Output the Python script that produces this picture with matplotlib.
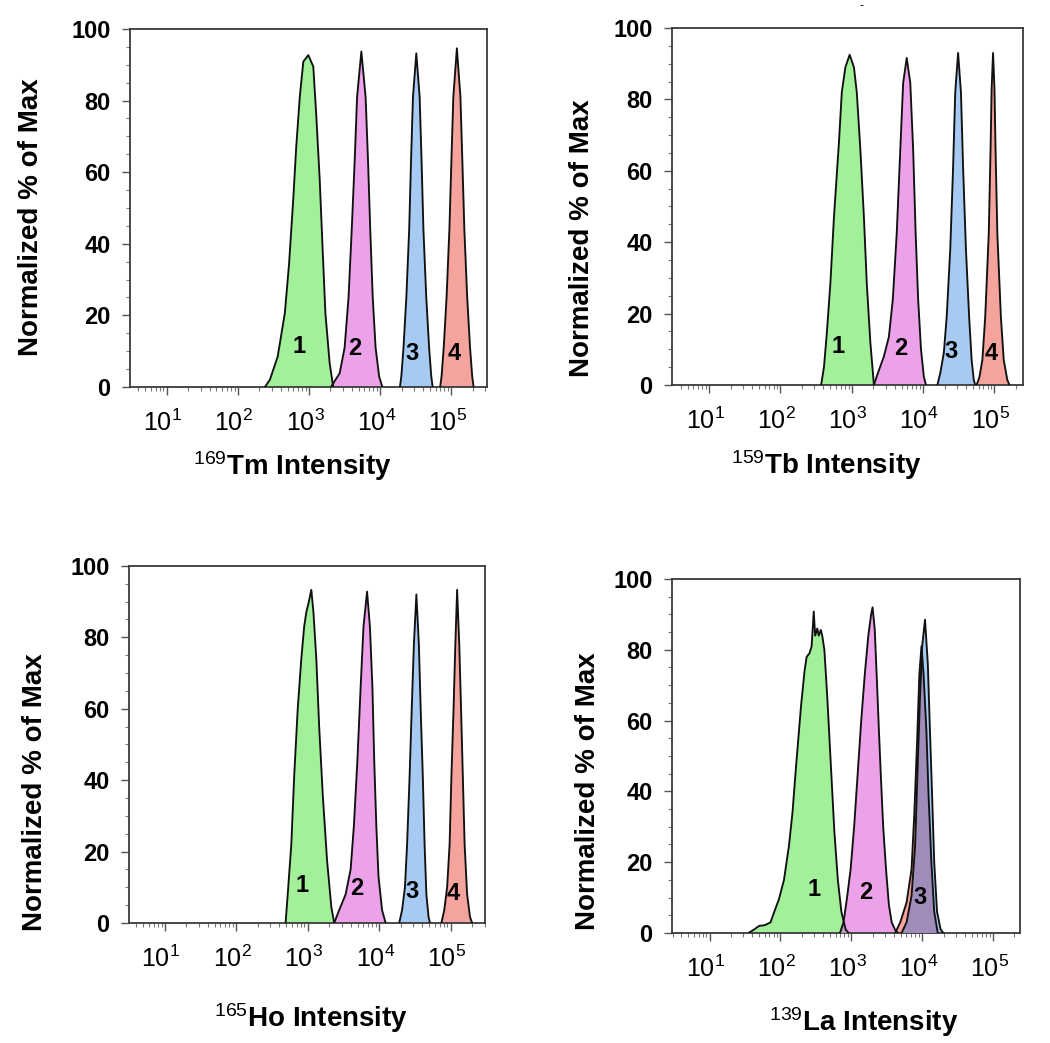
import numpy as np
import matplotlib.pyplot as plt
import matplotlib.transforms as mtransforms
from matplotlib.ticker import MultipleLocator, FixedLocator, LogLocator, NullFormatter
import matplotlib.colors as mcolors

plt.rcParams['font.family'] = ['Liberation Sans', 'DejaVu Sans']
plt.rcParams['mathtext.fontset'] = 'custom'
plt.rcParams['mathtext.rm'] = 'Liberation Sans'
plt.rcParams['mathtext.it'] = 'Liberation Sans:italic'
plt.rcParams['mathtext.bf'] = 'Liberation Sans:bold'

# peak colours (channel 1..4)
green = '#a2f09a'
magenta = '#eca2e8'
blue = '#a6caf2'
red = '#f5a39d'
# colours where two histograms overlap
overlap = {(green, magenta): '#b4a0b9', (red, blue): '#a08cb9'}

x_major = [1, 2, 3, 4, 5]   # decades with labels

# --- 169Tm panel: x in log10(intensity), y in % of max
tm_g_x = [2.38, 2.45, 2.56, 2.66, 2.72, 2.78, 2.82, 2.87, 2.92, 2.99, 3.06, 3.10, 3.15, 3.19, 3.23, 3.29, 3.34]
tm_g_y = [0, 2, 8.5, 20.6, 34.5, 53, 67, 81, 90.9, 92.7, 89.5, 76.5, 58, 39, 20.6, 6.6, 0]
tm_m_x = [3.31, 3.34, 3.43, 3.50, 3.555, 3.60, 3.64, 3.675, 3.735, 3.795, 3.83, 3.86, 3.895, 3.935, 3.985, 4.03]
tm_m_y = [0, 1, 3.8, 11, 25, 44, 62.5, 81, 93.7, 81, 62.5, 44, 25, 11, 2.9, 0]
tm_b_x = [4.277, 4.297, 4.327, 4.367, 4.407, 4.432, 4.46, 4.507, 4.554, 4.582, 4.607, 4.647, 4.687, 4.717, 4.737]
tm_b_y = [0, 3, 11, 25, 44, 62.5, 81, 93.2, 81, 62.5, 44, 25, 11, 3, 0]
tm_r_x = [4.842, 4.862, 4.892, 4.932, 4.972, 4.999, 5.027, 5.077, 5.127, 5.155, 5.182, 5.222, 5.262, 5.292, 5.312]
tm_r_y = [0, 3, 11, 25, 44, 62.5, 81, 94.6, 81, 62.5, 44, 25, 11, 3, 0]
tm_num_x = [2.86, 3.64, 4.45, 5.04]
tm_num_y = [11.2, 10.7, 9.3, 9.3]

# --- 159Tb panel
tb_g_x = [2.57, 2.61, 2.65, 2.70, 2.75, 2.82, 2.86, 2.91, 2.97, 3.03, 3.07, 3.12, 3.17, 3.21, 3.26, 3.31]
tb_g_y = [0, 5, 14.5, 28.5, 47, 68, 82, 89, 92.5, 89, 82, 66, 47, 28.5, 12, 0]
tb_m_x = [3.31, 3.36, 3.45, 3.52, 3.575, 3.63, 3.68, 3.72, 3.77, 3.82, 3.86, 3.895, 3.93, 3.97, 4.01, 4.04]
tb_m_y = [0, 3, 8, 13.5, 24, 42.5, 66, 84.6, 91.6, 84.6, 66, 42.5, 24, 10, 2.3, 0]
tb_b_x = [4.20, 4.24, 4.29, 4.33, 4.38, 4.42, 4.45, 4.49, 4.53, 4.56, 4.60, 4.645, 4.68, 4.71, 4.73]
tb_b_y = [0, 3.3, 9, 19, 38, 61, 82, 93, 82, 61, 38, 19, 7, 1.4, 0]
tb_r_x = [4.75, 4.79, 4.83, 4.87, 4.92, 4.945, 4.96, 4.98, 5.00, 5.015, 5.04, 5.09, 5.13, 5.18, 5.21]
tb_r_y = [0, 2.3, 7, 19, 42.5, 66, 83, 93, 83, 66, 42.5, 19, 7, 1.4, 0]
tb_num_x = [2.81, 3.68, 4.39, 4.96]
tb_num_y = [10.7, 10.3, 9.3, 8.9]

# --- 165Ho panel
ho_g_x = [2.69, 2.72, 2.77, 2.81, 2.86, 2.91, 2.95, 2.98, 3.01, 3.05, 3.08, 3.12, 3.16, 3.21, 3.27, 3.33, 3.37]
ho_g_y = [0, 8, 22, 41, 60, 74, 83, 87, 89.5, 93.3, 87, 74, 55, 36, 17.6, 4.5, 0]
ho_m_x = [3.37, 3.44, 3.53, 3.60, 3.645, 3.695, 3.74, 3.78, 3.83, 3.87, 3.905, 3.93, 3.96, 3.99, 4.04, 4.09]
ho_m_y = [0, 3.6, 8, 15, 27, 45.6, 66, 83, 92.8, 83, 66, 45.6, 27, 13, 3.6, 0]
ho_b_x = [4.28, 4.32, 4.36, 4.39, 4.425, 4.455, 4.485, 4.52, 4.555, 4.58, 4.61, 4.635, 4.66, 4.69, 4.71]
ho_b_y = [0, 3.6, 10, 22, 41, 60, 78, 92, 78, 60, 41, 22, 8, 1.7, 0]
ho_r_x = [4.87, 4.91, 4.95, 4.985, 5.01, 5.04, 5.065, 5.09, 5.12, 5.145, 5.17, 5.195, 5.23, 5.27, 5.30]
ho_r_y = [0, 3.6, 10, 22, 41, 60, 78, 93.3, 78, 60, 41, 22, 8, 1.7, 0]
ho_num_x = [2.92, 3.69, 4.46, 5.04]
ho_num_y = [10.6, 9.6, 8.7, 8.2]

# --- 139La panel (channels 3 and 4 overlap)
la_g_x = [1.55, 1.63, 1.70, 1.78, 1.86, 1.91, 1.98, 2.05, 2.12, 2.17, 2.22, 2.29, 2.34, 2.37, 2.41, 2.44, 2.47,
          2.49, 2.52, 2.54, 2.57, 2.59, 2.62, 2.66, 2.71, 2.76, 2.81, 2.86, 2.92, 2.96]
la_g_y = [0, 1, 2, 2.2, 3, 5.8, 9.6, 15, 24.6, 34, 47, 64, 74, 78, 79, 81, 90.8,
          84, 86, 84, 85.6, 84, 80, 67, 48, 29, 15, 6, 1, 0]
la_m_x = [2.84, 2.89, 2.94, 2.99, 3.04, 3.09, 3.14, 3.19, 3.24, 3.28, 3.30, 3.33, 3.36, 3.39, 3.42, 3.45, 3.49, 3.53, 3.57, 3.62, 3.66]
la_m_y = [0, 3, 10, 18, 30, 45, 60, 73, 84, 90, 92, 86, 72, 57, 43, 30, 18, 8, 3, 0.8, 0]
la_r_x = [3.62, 3.69, 3.78, 3.85, 3.89, 3.93, 3.96, 3.99, 4.02, 4.06, 4.09, 4.13, 4.17, 4.22]
la_r_y = [0, 3, 8.6, 18, 34, 55, 73, 81, 73, 57, 39, 20, 6, 0]
la_b_x = [3.71, 3.78, 3.85, 3.90, 3.93, 3.97, 4.00, 4.04, 4.08, 4.11, 4.14, 4.17, 4.21, 4.26, 4.30]
la_b_y = [0, 3, 10.5, 24.6, 43, 67, 81, 88.5, 76, 57, 39, 20, 6, 1, 0]
la_num_x = [2.47, 3.20, 3.97]
la_num_y = [12.4, 11.5, 10]

panels = [
    dict(iso='169', el='Tm', rect=[0.1238, 0.629, 0.340, 0.3432], xlim=(0.485, 5.50),
         peaks=[(tm_g_x, tm_g_y, green), (tm_m_x, tm_m_y, magenta), (tm_b_x, tm_b_y, blue), (tm_r_x, tm_r_y, red)],
         nums=(tm_num_x, tm_num_y, ['1', '2', '3', '4']), xlab=(0.455, -0.175), ylab=(-0.24, 0.475)),
    dict(iso='159', el='Tb', rect=[0.640, 0.6309, 0.3343, 0.3423], xlim=(0.48, 5.40),
         peaks=[(tb_g_x, tb_g_y, green), (tb_m_x, tb_m_y, magenta), (tb_b_x, tb_b_y, blue), (tb_r_x, tb_r_y, red)],
         nums=(tb_num_x, tb_num_y, ['1', '2', '3', '4']), xlab=(0.44, -0.177), ylab=(-0.218, 0.41)),
    dict(iso='165', el='Ho', rect=[0.1229, 0.1151, 0.339, 0.3423], xlim=(0.50, 5.48),
         peaks=[(ho_g_x, ho_g_y, green), (ho_m_x, ho_m_y, magenta), (ho_b_x, ho_b_y, blue), (ho_r_x, ho_r_y, red)],
         nums=(ho_num_x, ho_num_y, ['1', '2', '3', '4']), xlab=(0.51, -0.22), ylab=(-0.228, 0.366)),
    dict(iso='139', el='La', rect=[0.640, 0.1055, 0.3314, 0.3394], xlim=(0.47, 5.38),
         peaks=[(la_g_x, la_g_y, green), (la_m_x, la_m_y, magenta), (la_r_x, la_r_y, red), (la_b_x, la_b_y, blue)],
         nums=(la_num_x, la_num_y, ['1', '2', '3']), xlab=(0.55, -0.205), ylab=(-0.203, 0.40)),
]


def mix(c1, c2):
    if (c1, c2) in overlap:
        return overlap[(c1, c2)]
    return tuple(np.array(mcolors.to_rgb(c1)) * np.array(mcolors.to_rgb(c2)))


fig = plt.figure(figsize=(10.5, 10.43), dpi=100)
# tick labels sit a little to the left of their tick
shift = mtransforms.ScaledTranslation(-4 / 100, 0, fig.dpi_scale_trans)

for p in panels:
    ax = fig.add_axes(p['rect'])
    ax.set_xscale('log')
    polys = []
    for lx, y, c in p['peaks']:
        poly = ax.fill(10 ** np.array(lx), y, facecolor=c, edgecolor='none', zorder=2)[0]
        polys.append((poly, lx, y, c))
    # overlapping areas are drawn darker
    for i in range(len(polys)):
        for j in range(i + 1, len(polys)):
            pi, pj = polys[i], polys[j]
            ov = ax.fill(10 ** np.array(pj[1]), pj[2], facecolor=mix(pi[3], pj[3]),
                         edgecolor='none', zorder=3)[0]
            ov.set_clip_path(pi[0])
    for lx, y, c in p['peaks']:
        ax.plot(10 ** np.array(lx), y, color='#111111', lw=1.35, zorder=4, solid_joinstyle='round')

    nx, ny, nt = p['nums']
    for x, y, t in zip(nx, ny, nt):
        ax.text(10 ** x, y, t, ha='center', va='center', fontsize=17, fontweight='bold', zorder=5)

    ax.set_xlim(10 ** p['xlim'][0], 10 ** p['xlim'][1])
    ax.set_ylim(0, 100)
    ax.yaxis.set_major_locator(MultipleLocator(20))
    ax.yaxis.set_minor_locator(MultipleLocator(5))
    ax.set_xticks([10.0 ** k for k in x_major])
    ax.set_xticklabels([r'$\mathdefault{10^{%d}}$' % k for k in x_major])
    ax.xaxis.set_minor_locator(LogLocator(base=10, subs=np.arange(2, 10), numticks=10))
    ax.xaxis.set_minor_formatter(NullFormatter())
    ax.tick_params(axis='both', which='major', direction='out', length=6, width=1.0, color='#555555')
    ax.tick_params(axis='both', which='minor', direction='out', length=3, width=0.8, color='#777777')
    ax.tick_params(axis='y', labelsize=17, pad=8)
    ax.tick_params(axis='x', labelsize=18, pad=10)
    for lab in ax.get_yticklabels():
        lab.set_fontweight('bold')
    for lab in ax.get_xticklabels():
        lab.set_transform(lab.get_transform() + shift)
    for s in ax.spines.values():
        s.set_color('#3a3a3a')
        s.set_linewidth(1.3)

    ax.set_ylabel('Normalized % of Max', fontsize=20, fontweight='bold')
    ax.yaxis.set_label_coords(*p['ylab'])
    ax.set_xlabel(r'$^{\mathrm{' + p['iso'] + '}}$' + p['el'] + ' Intensity', fontsize=20, fontweight='bold')
    ax.xaxis.set_label_coords(*p['xlab'])

# small stray mark above the top-right panel
fig.text(862 / 1050, 1 - 6 / 1043, '-', fontsize=9, ha='center', va='center')

fig.savefig('out.png', dpi=100)
